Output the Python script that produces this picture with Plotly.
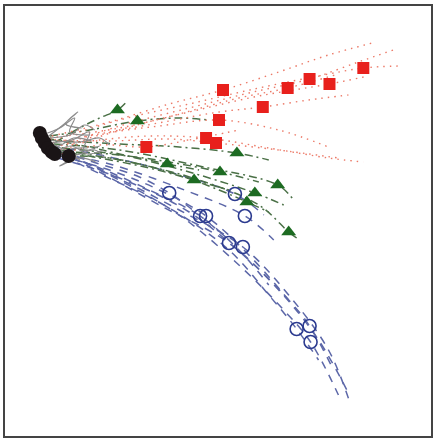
import plotly.graph_objects as go

# ---- data (trajectory coordinates in plot units; y grows downward) ----
gray_x = [[42, 60, 75, 70, 90], [44, 70, 85, 95], [46, 65, 80, 70, 88], [48, 80, 100, 110],
          [50, 75, 95, 105], [45, 62, 78, 66, 82], [47, 72, 90, 84, 100], [43, 58, 74, 92],
          [52, 68, 60, 80, 96], [55, 72, 88, 104]]
gray_y = [[135, 128, 118, 132, 135], [138, 135, 125, 130], [142, 150, 160, 150, 148], [140, 142, 138, 145],
          [145, 155, 150, 158], [139, 126, 112, 124, 128], [143, 140, 132, 150, 146], [137, 146, 138, 141],
          [150, 160, 166, 158, 162], [152, 146, 154, 150]]

red_x = [[52, 110, 170, 224, 280, 330, 378], [48, 120, 190, 260, 320, 365, 403], [55, 120, 190, 250, 311, 360, 395],
         [50, 120, 190, 260, 331, 370], [58, 120, 180, 240, 289, 340], [46, 110, 170, 220, 264, 310, 350],
         [60, 100, 160, 220, 280, 330], [54, 100, 150, 207, 270, 330, 365], [44, 110, 170, 217, 280, 340],
         [62, 100, 147, 190, 240]]
red_y = [[136, 122, 104, 90, 72, 55, 42], [142, 120, 104, 88, 76, 68, 66], [148, 126, 108, 93, 79, 62, 50],
         [138, 128, 112, 96, 84, 76], [152, 130, 114, 98, 88, 74], [144, 132, 121, 112, 107, 100, 95],
         [150, 135, 126, 120, 130, 147], [146, 140, 136, 138, 148, 158, 162], [140, 141, 139, 143, 150, 158],
         [154, 145, 147, 140, 130]]
red_mx = [224, 365, 311, 331, 289, 264, 220, 207, 217, 147]
red_my = [90, 68, 79, 84, 88, 107, 120, 138, 143, 147]

green_x = [[56, 80, 100, 118, 126], [50, 90, 138, 180, 210], [44, 100, 140, 168, 200], [52, 100, 150, 195, 230],
           [58, 110, 170, 221, 260], [48, 120, 180, 238, 270], [62, 110, 170, 220, 248, 270],
           [46, 120, 190, 256, 285], [54, 120, 200, 279, 295], [60, 130, 200, 260, 290, 298]]
green_y = [[142, 128, 118, 110, 103], [136, 130, 121, 118, 120], [146, 152, 158, 164, 170], [150, 158, 168, 180, 190],
           [152, 154, 162, 172, 182], [140, 144, 147, 153, 160], [156, 158, 172, 190, 202, 212],
           [138, 154, 172, 193, 205], [144, 150, 166, 185, 200], [150, 162, 180, 205, 232, 238]]
green_mx = [118, 138, 168, 195, 221, 238, 248, 256, 279, 290]
green_my = [110, 121, 164, 180, 172, 153, 202, 193, 185, 232]

blue_x = [[48, 100, 140, 170, 200, 230], [54, 100, 150, 201, 240, 270], [60, 110, 160, 207, 250, 290],
          [46, 100, 160, 230, 280, 320, 350], [56, 110, 180, 244, 290, 330, 352], [52, 110, 170, 236, 265],
          [62, 110, 180, 246, 275], [50, 105, 170, 230, 270, 298, 320], [58, 120, 190, 250, 290, 311, 335],
          [44, 112, 180, 240, 285, 312, 340]]
blue_y = [[148, 164, 177, 193, 215, 240], [152, 168, 190, 216, 250, 285], [156, 170, 190, 216, 255, 300],
          [144, 172, 205, 243, 290, 340, 393], [150, 174, 210, 247, 295, 350, 404], [146, 157, 172, 194, 215],
          [154, 164, 188, 216, 240], [150, 176, 208, 250, 295, 329, 360], [158, 178, 212, 260, 300, 326, 370],
          [142, 176, 215, 265, 310, 342, 395]]
blue_mx = [170, 201, 207, 230, 244, 236, 246, 298, 311, 312]
blue_my = [193, 216, 216, 243, 247, 194, 216, 329, 326, 342]

black_x = [40, 42, 45, 48, 52, 55, 69]
black_y = [133, 138, 143, 148, 152, 154, 156]

fig = go.Figure()

def add_lines(xs, ys, color, dash, width):
    for x, y in zip(xs, ys):
        fig.add_trace(go.Scatter(x=x, y=y, mode="lines", line=dict(color=color, dash=dash, width=width, shape="spline"),
                                 hoverinfo="skip", showlegend=False))

add_lines(blue_x, blue_y, "#5c67a8", "8px,7px", 1.5)
add_lines(green_x, green_y, "#4a7046", "8px,4px,2px,4px", 1.5)
add_lines(red_x, red_y, "#ec7a68", "1.5px,5px", 1.4)
add_lines(gray_x, gray_y, "#8c8c8c", "solid", 1.2)

fig.add_trace(go.Scatter(x=red_mx, y=red_my, mode="markers", showlegend=False,
                         marker=dict(symbol="square", size=12, color="#e8201c")))
fig.add_trace(go.Scatter(x=green_mx, y=green_my, mode="markers", showlegend=False,
                         marker=dict(symbol="triangle-up", size=13, color="#1d6b22")))
fig.add_trace(go.Scatter(x=blue_mx, y=blue_my, mode="markers", showlegend=False,
                         marker=dict(symbol="circle-open", size=13, color="#2b3a8f", line=dict(width=1.6))))
fig.add_trace(go.Scatter(x=black_x, y=black_y, mode="markers", showlegend=False,
                         marker=dict(symbol="circle", size=14, color="#1a1416")))

axis_common = dict(showgrid=False, zeroline=False, showticklabels=False, ticks="",
                   showline=True, mirror=True, linecolor="#444444", linewidth=2)
fig.update_layout(width=435, height=439, margin=dict(l=5, r=2, t=6, b=3),
                  paper_bgcolor="white", plot_bgcolor="white",
                  xaxis=dict(range=[5, 433], **axis_common),
                  yaxis=dict(range=[436, 6], **axis_common))
fig.write_html("out.html", config={"displayModeBar": False},
               post_script="document.body.style.margin='0';document.body.style.overflow='hidden';")
